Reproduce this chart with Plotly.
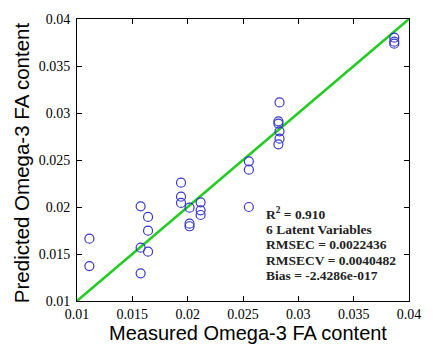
import plotly.graph_objects as go

measured = [0.01112, 0.01112, 0.01575, 0.01575, 0.01575, 0.01642, 0.01642, 0.01642,
            0.0194, 0.0194, 0.0194, 0.02017, 0.02017, 0.02017, 0.02117, 0.02117, 0.02117,
            0.02553, 0.02553, 0.02553, 0.0283, 0.0282, 0.0282, 0.0283, 0.0283, 0.0282,
            0.03867, 0.03867, 0.03867]
predicted = [0.01663, 0.01372, 0.02007, 0.01567, 0.01294, 0.01894, 0.01748, 0.01525,
             0.02259, 0.0211, 0.02043, 0.01993, 0.01823, 0.01795, 0.0205, 0.01965, 0.01915,
             0.02486, 0.02397, 0.0200, 0.03113, 0.02911, 0.02887, 0.02805, 0.02727, 0.02667,
             0.03801, 0.03759, 0.03738]
line_x = [0.01, 0.04]
line_y = [0.01, 0.04]
tick_vals = [0.01, 0.015, 0.02, 0.025, 0.03, 0.035, 0.04]
tick_text = ["0.01", "0.015", "0.02", "0.025", "0.03", "0.035", "0.04"]
stats_lines = ["R<sup>2</sup> = 0.910", "6 Latent Variables", "RMSEC = 0.0022436",
               "RMSECV = 0.0040482", "Bias = -2.4286e-017"]

fig = go.Figure()
fig.add_trace(go.Scatter(x=line_x, y=line_y, mode="lines",
                         line=dict(color="#22cc22", width=2.5), showlegend=False))
fig.add_trace(go.Scatter(x=measured, y=predicted, mode="markers",
                         marker=dict(symbol="circle-open", size=9, color="#3838c8",
                                     line=dict(width=1.2, color="#3838c8")),
                         showlegend=False))

axis_common = dict(range=[0.01, 0.04], tickvals=tick_vals, ticktext=tick_text,
                   ticks="inside", ticklen=5, tickwidth=1, tickcolor="black",
                   showline=True, linecolor="black", linewidth=1, mirror="ticks",
                   showgrid=False, zeroline=False,
                   tickfont=dict(family="Liberation Serif", size=14, color="black"))

fig.update_layout(
    width=433, height=345,
    margin=dict(l=77, r=17, t=19, b=44),
    paper_bgcolor="white", plot_bgcolor="white",
    xaxis=dict(**axis_common, ticklabelstandoff=0),
    yaxis=dict(**axis_common, ticklabelstandoff=3),
)

line_centers = [213, 229, 245, 260, 275]
for txt, yc in zip(stats_lines, line_centers):
    fig.add_annotation(text="<b>" + txt + "</b>", xref="paper", yref="paper",
                       x=(268 - 77) / 339, y=(301 - yc) / 282, xanchor="left", yanchor="middle",
                       align="left", showarrow=False,
                       font=dict(family="Liberation Serif", size=13.5, color="#222222"))

fig.add_annotation(text="Measured Omega-3 FA content", xref="paper", yref="paper",
                   x=(252 - 77) / 339, y=-(333 - 301) / 282, xanchor="center", yanchor="middle",
                   showarrow=False,
                   font=dict(family="Liberation Sans", size=20, color="black"))
fig.add_annotation(text="Predicted Omega-3 FA content", xref="paper", yref="paper",
                   x=-(77 - 20) / 339, y=(301 - 163) / 282, xanchor="center", yanchor="middle",
                   textangle=-90, showarrow=False,
                   font=dict(family="Liberation Sans", size=20.5, color="black"))

fig.write_html("out.html")
